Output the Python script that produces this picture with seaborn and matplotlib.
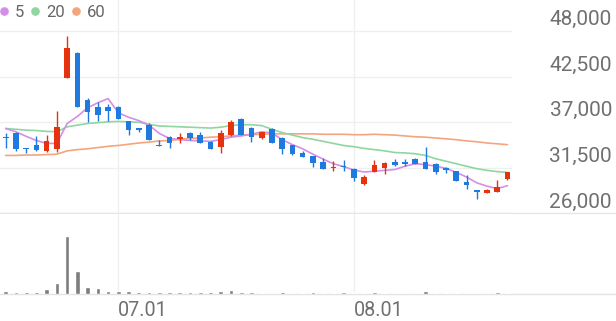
import numpy as np
import pandas as pd
import matplotlib
matplotlib.use("Agg")
import matplotlib.pyplot as plt
import matplotlib.transforms as mtransforms
from matplotlib.lines import Line2D
import seaborn as sns

# ---------------- data ----------------
open_ = [35200, 35700, 33950, 34200, 33550, 33800, 42350, 45300, 39650, 38850,
         38850, 38850, 37100, 36300, 36700, 34200, 35200, 35000, 35650, 35450,
         34600, 34000, 35450, 37450, 36300, 35050, 36150, 35100, 34200, 33300,
         32900, 32200, 31500, 31700, 31400, 29600, 31000, 31500, 32200, 32150,
         32600, 32200, 32000, 31500, 31100, 29800, 28800, 28450, 28600, 30100]
high = [35700, 35850, 33950, 35300, 35450, 38350, 47450, 45450, 39900, 39450,
        39200, 38950, 37200, 36300, 36850, 34800, 35350, 35650, 35850, 35850,
        34700, 36050, 37250, 37550, 36450, 35850, 36300, 35200, 34300, 33500,
        32950, 32750, 32300, 32400, 31450, 30600, 32400, 32200, 32600, 32600,
        32650, 34000, 32050, 31550, 31150, 30600, 28800, 29000, 30000, 31000]
low = [33950, 33500, 33250, 33550, 33400, 33400, 42350, 38800, 37050, 37150,
       37150, 37350, 35450, 35800, 34800, 34100, 33900, 34500, 34800, 34450,
       33800, 33300, 35300, 35450, 34600, 35000, 34450, 33150, 33100, 32800,
       31600, 31400, 31100, 31100, 29900, 29400, 30950, 30800, 31700, 31700,
       31950, 31400, 30800, 30850, 29900, 29000, 27800, 28450, 28550, 30050]
close = [35050, 33750, 33800, 33600, 34700, 36450, 45900, 38850, 38250, 37850,
         38350, 37450, 36050, 36050, 34900, 34100, 34500, 35200, 35150, 34500,
         33800, 35700, 37050, 35500, 35200, 35850, 34550, 33750, 33150, 32800,
         32100, 31400, 31600, 31550, 30300, 30400, 31800, 32100, 31900, 32000,
         32000, 31400, 31000, 31200, 29900, 29400, 28600, 28800, 29200, 31000]
volume = [300000, 200000, 150000, 170000, 420000, 1030000, 5750000, 2270000, 630000, 530000,
          300000, 300000, 230000, 130000, 130000, 130000, 130000, 130000, 130000, 130000,
          130000, 300000, 330000, 170000, 130000, 100000, 100000, 170000, 100000, 100000,
          150000, 100000, 100000, 130000, 100000, 100000, 150000, 100000, 100000, 100000,
          100000, 220000, 100000, 100000, 100000, 100000, 100000, 100000, 130000, 50000]
ma5 = [36250, 35850, 35300, 34800, 34450, 34450, 36850, 37700, 38750, 39350,
       39850, 38150, 37600, 37200, 36650, 35650, 35050, 34900, 34800, 34750,
       34700, 34900, 35200, 35350, 35550, 35850, 35700, 34900, 34300, 33800,
       33150, 32550, 32000, 31650, 31250, 31000, 31100, 31200, 31300, 31700,
       32000, 31900, 31700, 31450, 30950, 30400, 29700, 29300, 29000, 29350]
ma20 = [36250, 36150, 36050, 36000, 35900, 35850, 36450, 36650, 36850, 36950,
        37050, 37100, 37050, 37000, 36750, 36550, 36500, 36450, 36400, 36350,
        36300, 36400, 36600, 36700, 36700, 36600, 36150, 35750, 35450, 35150,
        34950, 34700, 34450, 34200, 34050, 33850, 33700, 33550, 33350, 33300,
        33200, 33000, 32600, 32300, 32000, 31700, 31400, 31200, 31050, 30950]
ma60 = [33000, 33000, 33050, 33050, 33100, 33150, 33550, 33700, 33800, 33950,
        34100, 34200, 34350, 34500, 34600, 34750, 34800, 34950, 35050, 35100,
        35200, 35250, 35350, 35450, 35500, 35550, 35600, 35600, 35600, 35600,
        35600, 35550, 35550, 35550, 35500, 35500, 35550, 35500, 35450, 35350,
        35250, 35200, 35100, 35000, 34900, 34750, 34650, 34500, 34400, 34300]
date_ticks = [11, 34]
date_labels = ["07.01", "08.01"]
price_ticks = [26000, 31500, 37000, 42500, 48000]
price_labels = ["26,000", "31,500", "37,000", "42,500", "48,000"]
ma_labels = ["5", "20", "60"]

# ---------------- styling ----------------
sns.set_style("white")
plt.rcParams["font.family"] = ["Roboto", "DejaVu Sans"]

UP = "#e5320f"
DOWN = "#1f7ae0"
MA_COLORS = ["#d38fe8", "#8fd6a0", "#f5a57d"]
GRID = "#efefef"
TEXT = "#707070"

W, H = 616, 321
fig = plt.figure(figsize=(W / 100, H / 100), dpi=100)

ax_right_px = 512
price_bottom_px = 213.5
vol_bottom_px = 293.5
ax = fig.add_axes([0, 1 - price_bottom_px / H, ax_right_px / W, price_bottom_px / H])
axv = fig.add_axes([0, 1 - vol_bottom_px / H, ax_right_px / W,
                    (vol_bottom_px - price_bottom_px) / H])

df = pd.DataFrame({"i": np.arange(len(close)), "open": open_, "high": high,
                   "low": low, "close": close, "volume": volume,
                   "ma5": ma5, "ma20": ma20, "ma60": ma60})
df["up"] = df["close"] >= df["open"]
cols = [UP if u else DOWN for u in df["up"]]

# x-scale: candle i at 5.7 + 10.24 i px
step = 10.24
x0 = -5.7 / step
x1 = (ax_right_px - 5.7) / step
ymin = 26000
ymax = 48000 + 31 * (22000 / 182.5)

for a in (ax, axv):
    a.set_xlim(x0, x1)
    for s in a.spines.values():
        s.set_visible(False)
    a.set_axisbelow(True)

# MA lines (seaborn)
for key, c in zip(["ma60", "ma20", "ma5"], MA_COLORS[::-1]):
    sns.lineplot(data=df, x="i", y=key, ax=ax, color=c, lw=1.2, zorder=2)

# candles
ax.vlines(df["i"], df["low"], df["high"], colors=cols, lw=1.0, zorder=3)
body_lo = np.minimum(df["open"], df["close"])
body_h = np.maximum(np.abs(df["close"] - df["open"]), 90)
ax.bar(df["i"], body_h, bottom=body_lo, width=0.55, color=cols, lw=0, zorder=4)

ax.set_ylim(ymin, ymax)
ax.set_xlim(x0, x1)
ax.set_xlabel("")
ax.set_ylabel("")
ax.set_xticks(date_ticks)
ax.set_xticklabels([])
ax.grid(True, axis="both", color=GRID, lw=0.9)
ax.tick_params(axis="x", length=0, labelbottom=False)
ax.tick_params(axis="y", length=0, left=False, labelleft=False, right=False,
               labelright=True, pad=(W - 4 - ax_right_px) * 0.72,
               labelsize=15, labelcolor=TEXT)
ax.set_yticks(price_ticks)
ax.set_yticklabels(price_labels)
for t in ax.yaxis.get_major_ticks():
    t.label2.set_horizontalalignment("right")
    t.label2.set_verticalalignment("bottom")
    t.label2.set_transform(t.label2.get_transform() +
                           mtransforms.ScaledTranslation(0, 1.5 / 72, fig.dpi_scale_trans))
ax.axhline(ymin, xmin=0, xmax=W / ax_right_px, color="#e6e6e6", lw=1.0, clip_on=False, zorder=1)

# volume (seaborn)
sns.barplot(data=df, x="i", y="volume", ax=axv, native_scale=True, color="#7d7d7d",
            saturation=1, width=0.46, errorbar=None, zorder=3)
axv.set_xlim(x0, x1)
axv.set_ylim(0, max(volume) * (vol_bottom_px - price_bottom_px) / 57.5)
axv.set_xlabel("")
axv.set_ylabel("")
axv.set_yticks([])
axv.set_xticks(date_ticks)
axv.set_xticklabels(date_labels)
axv.grid(True, axis="x", color=GRID, lw=0.9)
axv.tick_params(axis="x", length=0, pad=5.4, labelsize=14.2, labelcolor=TEXT)
for t in axv.xaxis.get_major_ticks():
    t.label1.set_horizontalalignment("left")
axv.axhline(0, xmin=0, xmax=W / ax_right_px, color="#e3e3e3", lw=1.0, clip_on=False, zorder=1)

# legend
handles = [Line2D([], [], ls="none", marker="o", ms=5.2, mfc=c, mec=c) for c in MA_COLORS]
fig.legend(handles, ma_labels, loc="upper left", bbox_to_anchor=(0.0, 1 - 5.0 / H),
           bbox_transform=fig.transFigure, ncol=3, frameon=False, fontsize=12,
           handlelength=0.5, handletextpad=0.4, columnspacing=0.42,
           borderpad=0, borderaxespad=0, labelcolor="#666666")

fig.savefig("out.png", dpi=100)
